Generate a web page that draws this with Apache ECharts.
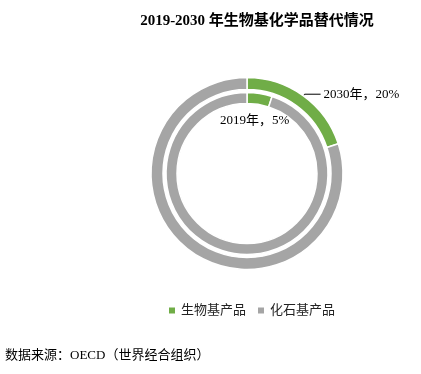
<!DOCTYPE html>
<html><head><meta charset="utf-8">
<script src="https://cdn.jsdelivr.net/npm/echarts@6/dist/echarts.min.js"></script>
<style>html,body{margin:0;padding:0;background:#fff}#c{width:421px;height:374px}</style>
</head><body><div id="c"></div>
<script>
var categories = ['生物基产品', '化石基产品'];
var years = ['2019年', '2030年'];
var share2019 = [5, 95];
var share2030 = [20, 80];
var colors = ['#70AD47', '#A5A5A5'];
var serif = '"Liberation Serif","Times New Roman","Noto Sans CJK SC",serif';

function mk(vals, year, labelCfg, lineOn) {
  return vals.map(function (v, i) {
    var d = { name: categories[i], value: v };
    if (i === 0) {
      d.label = Object.assign({ show: true, formatter: year + '，' + v + '%' }, labelCfg);
      if (lineOn) d.labelLine = { show: true };
    }
    return d;
  });
}

var chart = echarts.init(document.getElementById('c'));
chart.setOption({
  animation: false,
  color: colors,
  title: {
    text: '2019-2030 年生物基化学品替代情况',
    left: 252, textAlign: 'center', top: 9,
    textStyle: { fontFamily: serif, fontSize: 15, fontWeight: 'bold', color: '#000' }
  },
  legend: {
    data: categories, bottom: 52, itemWidth: 8, itemHeight: 8, itemGap: 10,
    icon: 'rect', left: 162,
    textStyle: { fontFamily: serif, fontSize: 13, color: '#222' }
  },
  graphic: [{
    type: 'text', left: 5, top: 349,
    style: { text: '数据来源：OECD（世界经合组织）', font: '13px ' + serif, fill: '#000' }
  }],
  series: [{
    type: 'pie', center: [247, 173.5], radius: [70, 81], startAngle: 90, clockwise: true,
    itemStyle: { borderColor: '#fff', borderWidth: 1.5 },
    label: { show: false }, labelLine: { show: false },
    labelLayout: { x: 220, y: 121, align: 'left', verticalAlign: 'middle' },
    data: mk(share2019, years[0], { fontFamily: serif, fontSize: 13, color: '#000' }, false)
  }, {
    type: 'pie', center: [247, 173.5], radius: [84, 96], startAngle: 90, clockwise: true,
    itemStyle: { borderColor: '#fff', borderWidth: 1.5 },
    label: { show: false, position: 'outside', distanceToLabelLine: 3 },
    labelLine: { show: false, length: 2, length2: 16, lineStyle: { color: '#000', width: 1 } },
    data: mk(share2030, years[1], { fontFamily: serif, fontSize: 13, color: '#000', position: 'outside' }, true)
  }]
});
</script></body></html>
